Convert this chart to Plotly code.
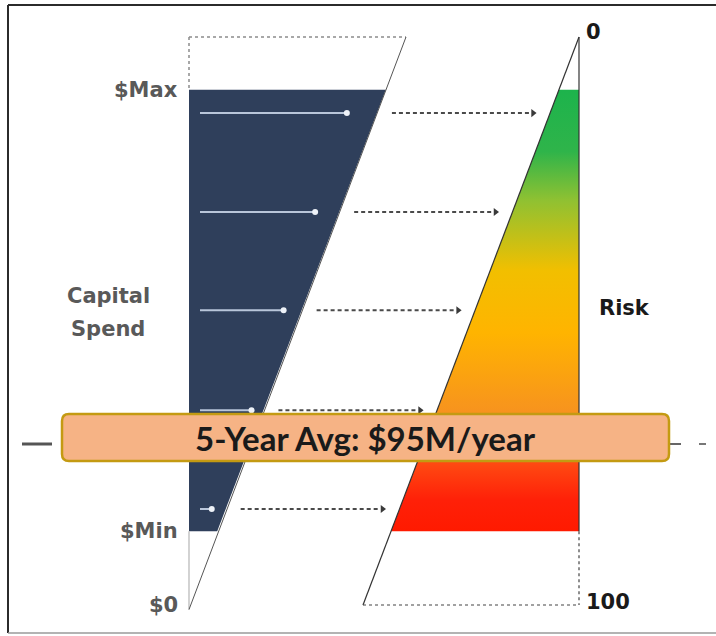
import plotly.graph_objects as go

# ---------------- data ----------------
spend_labels = ["$Max", "$Min", "$0"]
spend_levels = [90.7, 13.0, 0.0]          # % of capital-spend scale
risk_labels = ["0", "100"]
risk_levels = [0, 100]                    # risk scale (0 at top, 100 at bottom)
arrow_levels = [86.6, 69.2, 51.9, 34.3, 16.9]
avg_label = "5-Year Avg: $95M/year"
avg_level = 29.4
axis_title_left = ["Capital", "Spend"]
axis_title_right = "Risk"
risk_colors = [
    [0.00, "#ff1a00"], [0.07, "#ff2008"], [0.155, "#ff4a12"], [0.27, "#f7931e"],
    [0.45, "#ffb400"], [0.59, "#f2bf00"], [0.75, "#8fc132"], [0.86, "#2fb44a"],
    [1.00, "#1db34c"],
]

# ---------------- geometry helpers ----------------
W, H = 716, 636
Y0PX, PXPERU = 605, 5.68           # level 0 at px 605, 100 at px 37
y_lo = (Y0PX - H) / PXPERU
y_hi = Y0PX / PXPERU
LX, LTOP = 189, 406                # left triangle: vertical edge x, top right x
RX, RBOT = 579, 363                # right triangle: vertical edge x, bottom left x


def ldiag(L):
    return LX + (LTOP - LX) * L / 100.0


def rdiag(L):
    return RBOT + (RX - RBOT) * L / 100.0


def px2L(p):
    return (Y0PX - p) / PXPERU


lmax, lmin = spend_levels[0], spend_levels[1]

fig = go.Figure()

# navy capital-spend region
fig.add_trace(go.Scatter(
    x=[LX, ldiag(lmax), ldiag(lmin), LX, LX],
    y=[lmax, lmax, lmin, lmin, lmax],
    fill="toself", fillcolor="#2f3f5b", line=dict(width=0), mode="lines",
    hoverinfo="skip", showlegend=False))

# risk gradient region
fig.add_trace(go.Scatter(
    x=[rdiag(lmax), RX, RX, rdiag(lmin), rdiag(lmax)],
    y=[lmax, lmax, lmin, lmin, lmax],
    fill="toself", mode="lines", line=dict(width=0),
    fillgradient=dict(type="vertical", colorscale=risk_colors, start=lmin, stop=lmax),
    hoverinfo="skip", showlegend=False))

shapes = []
# outer frame
shapes.append(dict(type="line", x0=8, x1=8, y0=px2L(5), y1=px2L(633), line=dict(color="#2b2b2b", width=2)))
shapes.append(dict(type="line", x0=8, x1=W + 5, y0=px2L(5), y1=px2L(5), line=dict(color="#2b2b2b", width=2)))
shapes.append(dict(type="line", x0=8, x1=W + 5, y0=px2L(633), y1=px2L(633), line=dict(color="#9a9a9a", width=1.5)))

# left triangle outline
shapes.append(dict(type="line", x0=LX, x1=LTOP, y0=100, y1=100, line=dict(color="#8c8c8c", width=1.5, dash="dot")))
shapes.append(dict(type="line", x0=LX, x1=LX, y0=100, y1=lmax, line=dict(color="#8c8c8c", width=1.5, dash="dot")))
shapes.append(dict(type="line", x0=LX, x1=LX, y0=lmin, y1=-0.8, line=dict(color="#b5b5b5", width=1.2)))
shapes.append(dict(type="line", x0=LTOP, x1=LX, y0=100, y1=-0.8, line=dict(color="#555555", width=1)))

# right triangle outline
shapes.append(dict(type="line", x0=RX, x1=RBOT, y0=100, y1=0, line=dict(color="#333333", width=1.2)))
shapes.append(dict(type="line", x0=RX, x1=RX, y0=100, y1=lmin, line=dict(color="#333333", width=1.2)))
shapes.append(dict(type="line", x0=RX, x1=RX, y0=lmin, y1=0, line=dict(color="#444444", width=1.2, dash="dot")))
shapes.append(dict(type="line", x0=RBOT, x1=RX, y0=0, y1=0, line=dict(color="#444444", width=1.2, dash="dot")))

# average dashed line pieces (mostly hidden behind banner)
avg_line_L = px2L(444)
shapes.append(dict(type="line", x0=22, x1=52, y0=avg_line_L, y1=avg_line_L, line=dict(color="#555555", width=3)))
shapes.append(dict(type="line", x0=669, x1=681, y0=avg_line_L, y1=avg_line_L, line=dict(color="#666666", width=2)))
shapes.append(dict(type="line", x0=699, x1=706, y0=avg_line_L, y1=avg_line_L, line=dict(color="#777777", width=2)))

# arrows
for i, L in enumerate(arrow_levels):
    xs = LX + 11
    frac = 0.84 if i < len(arrow_levels) - 1 else 0.62
    xt = LX + (ldiag(L) - LX) * frac
    fig.add_trace(go.Scatter(x=[xs, xt], y=[L, L], mode="lines",
                             line=dict(color="#b9c6da", width=2), hoverinfo="skip", showlegend=False))
    fig.add_trace(go.Scatter(x=[xt], y=[L], mode="markers",
                             marker=dict(color="#eef2f8", size=6, symbol="circle"),
                             hoverinfo="skip", showlegend=False))
    ds = ldiag(L) + 15
    de = rdiag(L) - 15
    fig.add_trace(go.Scatter(x=[ds, de - 4], y=[L, L], mode="lines",
                             line=dict(color="#4a4a4a", width=2, dash="4px,3px"),
                             hoverinfo="skip", showlegend=False))
    fig.add_trace(go.Scatter(x=[de - 2], y=[L], mode="markers",
                             marker=dict(color="#3a3a3a", size=7, symbol="triangle-right"),
                             hoverinfo="skip", showlegend=False))

# banner (rounded rectangle)
bx0, bx1 = 62, 669
by1, by0 = px2L(414), px2L(461)
rx, ry = 7, 7 / PXPERU
path = (f"M {bx0+rx},{by1} L {bx1-rx},{by1} Q {bx1},{by1} {bx1},{by1-ry} "
        f"L {bx1},{by0+ry} Q {bx1},{by0} {bx1-rx},{by0} L {bx0+rx},{by0} "
        f"Q {bx0},{by0} {bx0},{by0+ry} L {bx0},{by1-ry} Q {bx0},{by1} {bx0+rx},{by1} Z")
shapes.append(dict(type="path", path=path, fillcolor="#f6b385",
                   line=dict(color="#c49a12", width=2.5), layer="above"))

annotations = []
gray = "#595959"
LFONT = "DejaVu Sans"
for lab, L in zip(spend_labels, spend_levels):
    annotations.append(dict(x=180, y=L, text=f"<b>{lab}</b>", xanchor="right", yanchor="middle",
                            showarrow=False, font=dict(family=LFONT, size=21, color=gray)))
annotations.append(dict(x=108, y=px2L(296), text=f"<b>{axis_title_left[0]}</b>", showarrow=False,
                        font=dict(family=LFONT, size=21, color=gray)))
annotations.append(dict(x=108, y=px2L(329), text=f"<b>{axis_title_left[1]}</b>", showarrow=False,
                        font=dict(family=LFONT, size=21, color=gray)))
risk_px = [32, 602]
for lab, p in zip(risk_labels, risk_px):
    annotations.append(dict(x=584, y=px2L(p), text=f"<b>{lab}</b>",
                            xanchor="left", yanchor="middle", showarrow=False,
                            font=dict(family=LFONT, size=21, color="#1a1a1a")))
annotations.append(dict(x=597, y=px2L(308), text=f"<b>{axis_title_right}</b>", xanchor="left",
                        showarrow=False, font=dict(family=LFONT, size=21, color="#1a1a1a")))
annotations.append(dict(x=365, y=avg_level, text=f"<b>{avg_label}</b>", showarrow=False,
                        font=dict(family="Lato", size=33, color="#1a1a1a")))

fig.update_layout(
    width=W, height=H, margin=dict(l=0, r=0, t=0, b=0),
    paper_bgcolor="white", plot_bgcolor="white",
    xaxis=dict(range=[0, W], visible=False, fixedrange=True),
    yaxis=dict(range=[y_lo, y_hi], visible=False, fixedrange=True),
    shapes=shapes, annotations=annotations, showlegend=False,
)

fig.write_html("out.html")
